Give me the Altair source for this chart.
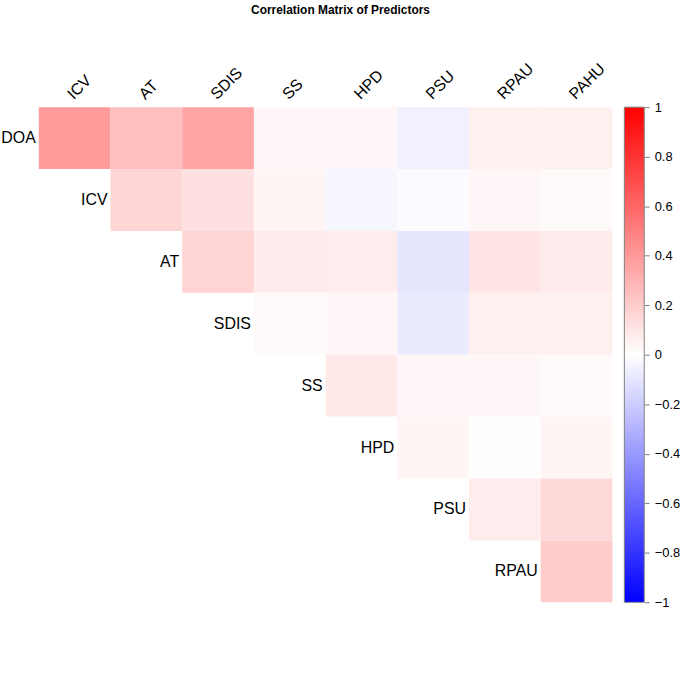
import altair as alt
import pandas as pd

row_names = ["DOA", "ICV", "AT", "SDIS", "SS", "HPD", "PSU", "RPAU"]
col_names = ["ICV", "AT", "SDIS", "SS", "HPD", "PSU", "RPAU", "PAHU"]

# upper-triangle correlations, row by row (first value is the column right after the row label)
r_DOA = [0.39, 0.25, 0.36, 0.03, 0.03, -0.06, 0.06, 0.06]
r_ICV = [0.16, 0.12, 0.04, -0.035, -0.02, 0.03, 0.02]
r_AT = [0.17, 0.08, 0.075, -0.10, 0.10, 0.08]
r_SDIS = [0.02, 0.03, -0.08, 0.06, 0.06]
r_SS = [0.09, 0.03, 0.03, 0.02]
r_HPD = [0.04, 0.005, 0.04]
r_PSU = [0.07, 0.15]
r_RPAU = [0.20]
all_rows = [r_DOA, r_ICV, r_AT, r_SDIS, r_SS, r_HPD, r_PSU, r_RPAU]

legend_ticks = [1, 0.8, 0.6, 0.4, 0.2, 0, -0.2, -0.4, -0.6, -0.8, -1]

FONT = "Liberation Sans"

cells = []
for i, vals in enumerate(all_rows):
    for k, v in enumerate(vals):
        j = i + k
        cells.append({"row": row_names[i], "col": col_names[j], "ri": i, "ci": j, "val": v})
cells_df = pd.DataFrame(cells)
rowlab_df = pd.DataFrame({"label": row_names, "ri": list(range(len(row_names)))})
collab_df = pd.DataFrame({"label": col_names, "ci": list(range(len(col_names)))})

n = len(col_names)
xs = alt.Scale(domain=[0, n], nice=False, zero=False)
ys = alt.Scale(domain=[0, n], nice=False, zero=False, reverse=True)

color_scale = alt.Scale(domain=[-1, 0, 1], range=["#0000FF", "#FFFFFF", "#FF0000"], interpolate="rgb")

heat = alt.Chart(cells_df).mark_rect().transform_calculate(
    x0="datum.ci", x1="datum.ci + 1", y0="datum.ri", y1="datum.ri + 1"
).encode(
    x=alt.X("x0:Q", scale=xs, axis=None),
    x2="x1:Q",
    y=alt.Y("y0:Q", scale=ys, axis=None),
    y2="y1:Q",
    color=alt.Color("val:Q", scale=color_scale, legend=None),
    tooltip=["row:N", "col:N", "val:Q"],
)

row_text = alt.Chart(rowlab_df).mark_text(
    align="right", baseline="middle", fontSize=16, font=FONT, color="black", dx=-3
).transform_calculate(xp="datum.ri", yp="datum.ri + 0.5").encode(
    x=alt.X("xp:Q", scale=xs, axis=None),
    y=alt.Y("yp:Q", scale=ys, axis=None),
    text="label:N",
)

col_text = alt.Chart(collab_df).mark_text(
    align="left", baseline="alphabetic", angle=315, fontSize=16, font=FONT, color="black",
    xOffset=-1, yOffset=-7
).transform_calculate(xp="datum.ci + 0.5", yp="0").encode(
    x=alt.X("xp:Q", scale=xs, axis=None),
    y=alt.Y("yp:Q", scale=ys, axis=None),
    text="label:N",
)

main = alt.layer(heat, row_text, col_text).properties(width=577, height=498)

bar_df = pd.DataFrame({"lo": [-1], "hi": [1]})
grad = alt.LinearGradient(
    gradient="linear",
    stops=[
        alt.GradientStop(offset=0, color="#FF0000"),
        alt.GradientStop(offset=0.5, color="#FFFFFF"),
        alt.GradientStop(offset=1, color="#0000FF"),
    ],
    x1=0, x2=0, y1=0, y2=1,
)
colorbar = alt.Chart(bar_df).mark_rect(color=grad, stroke="#7f7f7f", strokeWidth=1).encode(
    y=alt.Y(
        "lo:Q",
        scale=alt.Scale(domain=[-1, 1], nice=False),
        axis=alt.Axis(
            orient="right", values=legend_ticks, format=".1~f", title=None, grid=False,
            domain=False, tickSize=5, tickColor="#7f7f7f", labelFontSize=13, labelFont=FONT,
            labelColor="black", labelPadding=5,
        ),
    ),
    y2="hi:Q",
).properties(width=20, height=498)

chart = alt.hconcat(main, colorbar, spacing=11).properties(
    title=alt.TitleParams(
        "Correlation Matrix of Predictors", fontSize=12, fontWeight="bold", font=FONT,
        anchor="middle", offset=44, color="black",
    ),
    padding={"left": 1, "top": 2, "right": 5, "bottom": 5},
).configure_view(stroke=None)

chart.save("out.html", embed_options={"renderer": "svg", "actions": False})
